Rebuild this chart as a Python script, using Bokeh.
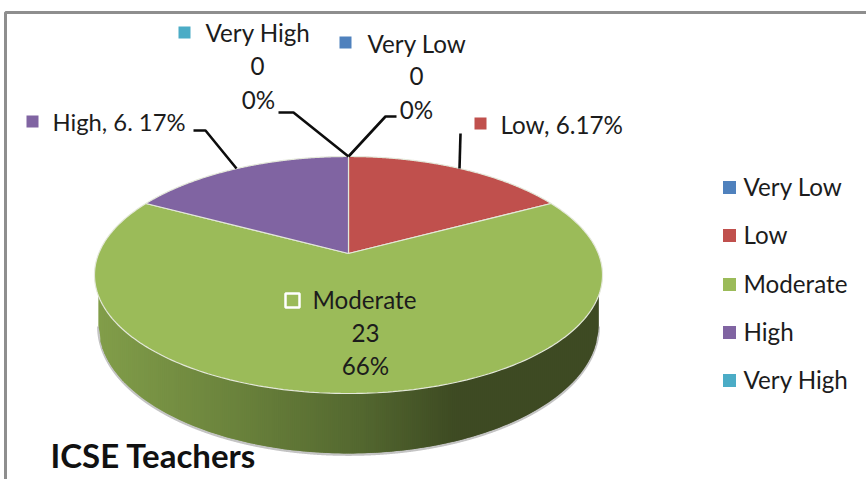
import numpy as np
from bokeh.plotting import figure
from bokeh.embed import file_html
from bokeh.resources import INLINE
from bokeh.core.properties import value

categories = ["Very Low", "Low", "Moderate", "High", "Very High"]
values = [0, 6, 23, 6, 0]
colors = ["#4F81BD", "#C0504D", "#9BBB59", "#8064A2", "#4BACC6"]
title = "ICSE Teachers"

FONT = value("Lato")
TXT = "#1c1c1c"

p = figure(width=866, height=479, x_range=(0, 866), y_range=(479, 0),
           output_backend="svg", toolbar_location=None, min_border=0,
           outline_line_color=None,
           background_fill_color="white", border_fill_color="white")
p.axis.visible = False
p.grid.visible = False


def proj(theta, ay, a, b, k=0.1814, cx=348.0):
    u, v = np.sin(theta), np.cos(theta)
    d = 1 + k * v
    return cx + a * u / d, ay - b * v / d


def lower_arc(**kw):
    x, y = proj(np.linspace(0, 2 * np.pi, 4001), **kw)
    i0, i1 = int(np.argmax(x)), int(np.argmin(x))
    x, y = x[i0:i1 + 1][::-1], y[i0:i1 + 1][::-1]
    return x, y


TOP = dict(ay=253.0, a=249.8, b=114.6)
BOT = dict(ay=301.7, a=246.0, b=123.8)

# frame
p.line([5, 5, 866], [479, 12, 12], line_color="#8e8e8e", line_width=3)

tx, ty = lower_arc(**TOP)
bx, by = lower_arc(**BOT)

# soft shadow round the side wall
p.line(bx, by + 1.2, line_color="#c4c4c4", line_width=2.5)

# side wall, drawn as narrow overlapping strips with a left-to-right shade
stops_x = [97, 240, 360, 455, 600]
stops_c = [(130, 158, 74), (106, 130, 60), (84, 104, 48), (62, 75, 35), (62, 74, 35)]
edges = np.r_[np.arange(bx.min(), bx.max(), 2.0), bx.max()]
sx, sy, sc = [], [], []
for x0, x1 in zip(edges[:-1], edges[1:]):
    xa, xb = x0, min(x1 + 2.0, bx.max())
    xs = [xa, xb, xb, xa]
    ys = [np.interp(xa, tx, ty) - 2, np.interp(xb, tx, ty) - 2,
          np.interp(xb, bx, by), np.interp(xa, bx, by)]
    mid = (x0 + x1) / 2
    col = [int(np.interp(mid, stops_x, [c[i] for c in stops_c])) for i in range(3)]
    sx.append(xs)
    sy.append(ys)
    sc.append("#%02x%02x%02x" % tuple(col))
p.patches(sx, sy, fill_color=sc, line_color=None)

# top face
total = sum(values)
start = 0.0
for cat, val, col in zip(categories, values, colors):
    if val == 0:
        continue
    end = start + val / total * 2 * np.pi
    a = np.linspace(start, end, 240)
    x, y = proj(a, **TOP)
    p.patch(np.r_[348.0, x], np.r_[253.0, y], fill_color=col,
            line_color="#e4e8da", line_width=1.2)
    start = end

# leader lines
for lx, ly in [([193, 205, 236], [130, 130, 168]),
               ([278, 293, 348], [112, 112, 156]),
               ([396, 385, 348], [116, 116, 156]),
               ([460, 459], [133, 168])]:
    p.line(lx, ly, line_color="#0d0d0d", line_width=2.6)

# data-label keys
i = {c: n for n, c in enumerate(categories)}
p.scatter([184, 345, 32, 480], [32, 42, 121, 123], marker="square", size=12,
          fill_color=[colors[i["Very High"]], colors[i["Very Low"]], colors[i["High"]], colors[i["Low"]]],
          line_color=None)
p.scatter([292], [300], marker="square", size=14, fill_color=colors[i["Moderate"]],
          line_color="white", line_width=2.5)

pct = [round(v / total * 100) for v in values]


def label(x, y, t, align="left", size="24.2px", style="normal", color=TXT):
    p.text([x], [y], text=[t], text_align=align, text_baseline="middle",
           text_font=FONT, text_font_size=size, text_font_style=style, text_color=color)


label(205, 32, categories[4])
label(257, 65, str(values[4]), "center")
label(258, 99, f"{pct[4]}%", "center")
label(367, 43, categories[0])
label(416, 75, str(values[0]), "center")
label(416, 109, f"{pct[0]}%", "center")
label(52, 121, f"{categories[3]}, {values[3]}. {pct[3]}%", size="23.8px")
label(500, 124, f"{categories[1]}, {values[1]}.{pct[1]}%")
label(312, 299, categories[2])
label(365, 332, str(values[2]), "center")
label(365, 365, f"{pct[2]}%", "center")
label(50, 454, title, size="33px", style="bold", color="#111111")

# legend
for cat, col, ly in zip(categories, colors, [187, 235, 284, 332, 380]):
    p.scatter([729], [ly], marker="square", size=13, fill_color=col, line_color=None)
    label(743, ly - 1, cat)

open("out.html", "w").write(file_html(p, INLINE))
